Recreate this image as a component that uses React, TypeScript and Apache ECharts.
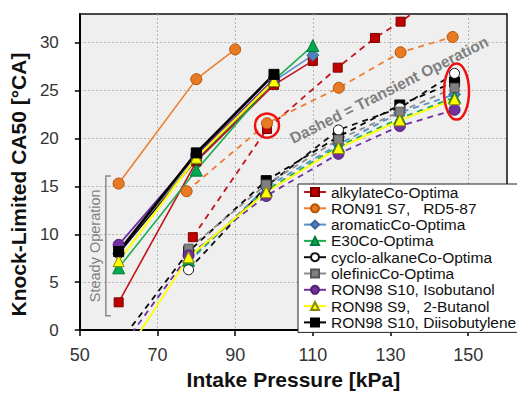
import React, { useEffect, useRef } from "react";
import * as echarts from "echarts";

const FONT = "'Liberation Sans', Arial, Helvetica, sans-serif";

// ---- tick labels ----
const xTicks = [50, 70, 90, 110, 130, 150];
const yTicks = [0, 5, 10, 15, 20, 25, 30];

// ---- legend names ----
const names = [
  "alkylateCo-Optima",
  "RON91 S7,\u00a0\u00a0\u00a0RD5-87",
  "aromaticCo-Optima",
  "E30Co-Optima",
  "cyclo-alkaneCo-Optima",
  "olefinicCo-Optima",
  "RON98 S10, Isobutanol",
  "RON98 S9,\u00a0\u00a0\u00a02-Butanol",
  "RON98 S10, Diisobutylene",
];

// ---- data: [intake pressure kPa, CA50 °CA] ----
const alkylateSteady = [[60, 2.9], [80, 17.6], [100, 25.6], [110, 28.1]];
const alkylateTransient = [[79.1, 9.7], [98.2, 21.0], [116.4, 27.4], [126.0, 30.5], [132.6, 32.2], [146.0, 36.0]];
const ron91Steady = [[60, 15.3], [80, 26.2], [90, 29.3]];
const ron91Transient = [[77.5, 14.5], [98.2, 21.6], [116.7, 25.3], [132.6, 29.0], [146.0, 30.6]];
const aromaticSteady = [[60, 8.0], [80, 18.0], [100, 26.0], [110, 28.7]];
const aromaticTransient = [[78, 7.1], [98, 14.9], [116.6, 19.4], [132.4, 22.7], [146.5, 24.6]];
const e30Steady = [[60, 6.5], [80, 16.7], [100, 26.1], [110, 29.7]];
const e30Transient = [[78, 7.3], [98, 14.6], [116.6, 19.2], [132.4, 22.1], [146.5, 24.3]];
const cycloSteady = [[60, 8.0], [80, 17.8], [100, 25.9]];
const cycloTransient = [[78, 6.3], [98, 15.0], [116.6, 20.9], [132.4, 23.2], [146.5, 26.8]];
const olefinicSteady = [[60, 8.3], [80, 17.9], [100, 26.0]];
const olefinicTransient = [[78, 8.5], [98, 15.2], [116.6, 19.9], [132.4, 22.8], [146.5, 25.3]];
const isobutanolSteady = [[60, 8.9], [80, 18.3], [100, 26.2]];
const isobutanolTransient = [[60, -2.2], [78, 7.8], [98, 14.0], [116.6, 18.4], [132.4, 21.3], [146.5, 23.0]];
const butanolSteady = [[60, 7.2], [80, 18.0], [100, 26.0]];
const butanolTransient = [[60, -3.6], [78, 7.6], [98, 14.4], [116.6, 19.0], [132.4, 21.9], [146.5, 24.1]];
const diisobutyleneSteady = [[60, 8.2], [80, 18.5], [100, 26.7]];
const diisobutyleneTransient = [[60, -1.4], [78, 8.2], [98, 15.6], [116.6, 20.2], [132.4, 23.5], [146.5, 25.9]];

// ---- annotation anchors (data coords) ----
const transientNote = { x: 129.6, y: 25.1, angleDeg: 26.7 };
const steadyNote = { x: 53.8, y: 8.8 };
const bracketMark = { x: 56.7, yTop: 16.1, yBottom: 1.5 };
const circleMark = { x: 98.2, y: 21.35 };
const ellipseMark = { x: 147.0, y: 24.9 };

type Style = {
  line: string;
  fill: string;
  border: string;
  symbol: string;
  size: number;
  width: number;
};

const styles: Style[] = [
  { line: "#C0141C", fill: "#C00000", border: "#7a0000", symbol: "rect", size: 10, width: 1.6 },
  { line: "#ED7D31", fill: "#E97A25", border: "#b35400", symbol: "circle", size: 11, width: 1.6 },
  { line: "#5B8FCB", fill: "#4F81BD", border: "#3a6496", symbol: "diamond", size: 12, width: 1.6 },
  { line: "#1DAE50", fill: "#00A94F", border: "#007a38", symbol: "triangle", size: 12, width: 1.6 },
  { line: "#111111", fill: "#ffffff", border: "#111111", symbol: "circle", size: 10, width: 1.6 },
  { line: "#8c8c8c", fill: "#808080", border: "#555555", symbol: "rect", size: 10, width: 1.6 },
  { line: "#7030A0", fill: "#7030A0", border: "#4d1f70", symbol: "circle", size: 11, width: 1.8 },
  { line: "#FFFF00", fill: "#FFFF00", border: "#8a8a00", symbol: "triangle", size: 11, width: 2 },
  { line: "#000000", fill: "#000000", border: "#000000", symbol: "rect", size: 11, width: 2.6 },
];

const steadyData = [
  alkylateSteady, ron91Steady, aromaticSteady, e30Steady, cycloSteady,
  olefinicSteady, isobutanolSteady, butanolSteady, diisobutyleneSteady,
];
const transientData = [
  alkylateTransient, ron91Transient, aromaticTransient, e30Transient, cycloTransient,
  olefinicTransient, isobutanolTransient, butanolTransient, diisobutyleneTransient,
];
// drawing order of the transient series (diisobutylene underneath)
const transientOrder = [8, 0, 1, 2, 3, 4, 5, 6, 7];

function mkSeries(i: number, data: number[][], transient: boolean) {
  const s = styles[i];
  const solidTransient = i === 7; // 2-Butanol transient drawn solid
  return {
    type: "line",
    name: names[i],
    data,
    symbol: s.symbol,
    symbolSize: s.symbol === "rect" ? s.size - 1 : s.size,
    showSymbol: true,
    clip: true,
    lineStyle: {
      color: s.line,
      width: transient ? 1.8 : s.width,
      type: transient && !solidTransient ? [6, 5] : "solid",
    },
    itemStyle: { color: s.fill, borderColor: s.border, borderWidth: 1 },
    emphasis: { disabled: true },
    silent: true,
    z: transient ? 3 : 2,
  };
}

export default function App() {
  const ref = useRef<HTMLDivElement>(null);

  useEffect(() => {
    if (!ref.current) return;
    const chart = echarts.init(ref.current, null, { renderer: "svg" });

    const series: any[] = [];
    steadyData.forEach((d, i) => series.push(mkSeries(i, d, false)));
    transientOrder.forEach((i) => series.push(mkSeries(i, transientData[i], true)));

    chart.setOption({
      animation: false,
      backgroundColor: "#ffffff",
      textStyle: { fontFamily: FONT },
      grid: {
        left: 77,
        right: 10,
        top: 14,
        bottom: 57,
        show: true,
        backgroundColor: "#efefef",
        borderColor: "#111",
        borderWidth: 1.5,
        containLabel: false,
      },
      xAxis: {
        type: "value",
        min: 50,
        max: 160,
        interval: 20,
        name: "Intake Pressure [kPa]",
        nameLocation: "middle",
        nameGap: 30,
        nameTextStyle: { fontFamily: FONT, fontSize: 21, fontWeight: "bold", color: "#111" },
        axisLine: { show: true, onZero: false, lineStyle: { color: "#000", width: 2 } },
        axisTick: { show: true, length: 6, lineStyle: { color: "#000", width: 1.5 }, customValues: xTicks },
        axisLabel: {
          fontFamily: FONT,
          fontSize: 18,
          color: "#333",
          margin: 16,
          customValues: xTicks,
          formatter: (v: number) => (xTicks.includes(v) ? String(v) : ""),
        },
        splitLine: { show: true, lineStyle: { color: "#b4b4b4", type: [2, 2], width: 1 } },
      },
      yAxis: {
        type: "value",
        min: 0,
        max: 33,
        interval: 5,
        name: "Knock-Limited CA50 [°CA]",
        nameLocation: "middle",
        nameGap: 39,
        nameTextStyle: {
          fontFamily: FONT,
          fontSize: 21,
          fontWeight: "bold",
          color: "#111",
          padding: [0, 25, 0, 0],
        },
        axisLine: { show: true, onZero: false, lineStyle: { color: "#000", width: 2 } },
        axisTick: { show: true, length: 5, lineStyle: { color: "#000", width: 1.5 }, customValues: yTicks },
        axisLabel: {
          fontFamily: FONT,
          fontSize: 17,
          color: "#333",
          margin: 21,
          customValues: yTicks,
          formatter: (v: number) => (yTicks.includes(v) ? String(v) : ""),
        },
        splitLine: { show: true, lineStyle: { color: "#b4b4b4", type: [2, 2], width: 1 } },
      },
      legend: {
        data: names,
        orient: "vertical",
        left: 298,
        top: 184,
        itemWidth: 22,
        itemHeight: 10,
        itemGap: 0.3,
        padding: [0, 4, 2, 5],
        backgroundColor: "#ffffff",
        borderColor: "#222",
        borderWidth: 1,
        borderRadius: 0,
        selectedMode: false,
        textStyle: { fontFamily: FONT, fontSize: 15.5, color: "#111" },
        z: 10,
      },
      series,
    });

    const p = (x: number, y: number) => chart.convertToPixel({ gridIndex: 0 }, [x, y]) as number[];
    const tn = p(transientNote.x, transientNote.y);
    const sn = p(steadyNote.x, steadyNote.y);
    const bt = p(bracketMark.x, bracketMark.yTop);
    const bb = p(bracketMark.x, bracketMark.yBottom);
    const cm = p(circleMark.x, circleMark.y);
    const em = p(ellipseMark.x, ellipseMark.y);

    chart.setOption({
      graphic: [
        {
          type: "text",
          x: tn[0],
          y: tn[1],
          rotation: (transientNote.angleDeg * Math.PI) / 180,
          z: 20,
          silent: true,
          style: {
            text: "Dashed = Transient Operation",
            fill: "#7f7f7f",
            fontSize: 15.5,
            fontWeight: "bold",
            fontFamily: FONT,
            align: "center",
            verticalAlign: "middle",
          },
        },
        {
          type: "text",
          x: sn[0],
          y: sn[1],
          rotation: Math.PI / 2,
          z: 20,
          silent: true,
          style: {
            text: "Steady Operation",
            fill: "#7f7f7f",
            fontSize: 14.5,
            fontFamily: FONT,
            align: "center",
            verticalAlign: "middle",
          },
        },
        {
          type: "polyline",
          z: 20,
          silent: true,
          shape: {
            points: [
              [bt[0] + 5, bt[1]],
              [bt[0], bt[1]],
              [bb[0], bb[1]],
              [bb[0] + 5, bb[1]],
            ],
          },
          style: { stroke: "#8a8a8a", lineWidth: 1.5, fill: "none" },
        },
        {
          type: "circle",
          z: 20,
          silent: true,
          shape: { cx: cm[0], cy: cm[1], r: 12 },
          style: { stroke: "#ee1111", lineWidth: 2.5, fill: "none" },
        },
        {
          type: "ellipse",
          z: 20,
          silent: true,
          shape: { cx: em[0], cy: em[1], rx: 12.5, ry: 28 },
          style: { stroke: "#ee1111", lineWidth: 2.5, fill: "none" },
        },
      ],
    });

    return () => chart.dispose();
  }, []);

  return <div ref={ref} style={{ width: 517, height: 395, position: "absolute", left: 0, top: 0 }} />;
}
